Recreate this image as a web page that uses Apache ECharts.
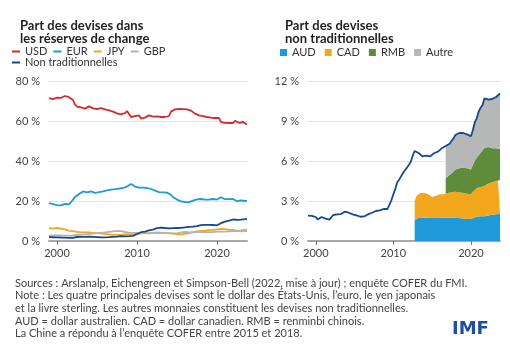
<!DOCTYPE html>
<html lang="fr">
<head>
    <meta charset="UTF-8">
    <title>Devises de réserve</title>
    <script src="https://cdn.jsdelivr.net/npm/echarts@6/dist/echarts.min.js"></script>
    <style>
        body { margin: 0; background: #fff; }
    </style>
</head>
<body>
<div id="main" style="width: 510px;height:351px;"></div>
<script>
    // trimestres 1999T1 .. 2023T4
    var quarters = [];
    for (var y = 1999; y < 2024; y++) {
        for (var q = 0; q < 4; q++) quarters.push(y + q / 4);
    }
    var yearTicks = [2000, 2010, 2020];

    // part des devises dans les réserves (%)
    var usd = [71.4,72.0,70.9,71.3, 71.7,72.0,71.6,72.3, 72.5,71.7,71.9,71.4, 70.5,68.3,67.2,66.7,
        66.8,66.5,66.2,65.9, 67.3,66.6,66.3,66.0, 66.0,66.2,66.4,66.0, 65.8,65.6,65.3,64.9,
        64.7,64.3,63.8,63.3, 63.3,63.8,63.9,65.0, 63.5,62.0,62.2,62.4, 62.4,62.8,61.2,61.5,
        61.7,62.0,62.8,62.5, 62.2,62.0,62.3,62.3, 62.0,62.1,62.0,61.7, 62.5,64.7,65.0,65.8,
        66.2,66.0,66.0,65.9, 65.8,65.8,65.5,65.2, 64.7,63.7,63.2,62.8, 62.7,62.4,62.0,62.0,
        61.8,61.7,61.6,61.5, 61.4,61.6,59.4,59.3, 59.1,59.3,59.0,59.2, 59.0,60.1,59.6,59.1,
        59.4,59.5,58.8,58.3];
    var eur = [19.0,18.5,18.4,18.2, 17.9,17.6,17.8,18.0, 18.6,18.5,18.3,19.5, 20.7,22.0,22.7,23.5,
        24.1,24.8,24.6,24.3, 23.6,24.8,24.5,24.1, 24.1,24.4,24.6,24.8, 25.0,25.3,25.6,25.7,
        25.8,25.9,26.0,26.2, 26.2,26.5,26.7,27.2, 28.2,28.5,27.8,27.2, 26.5,26.7,27.0,26.7,
        26.7,26.5,26.3,26.0, 25.8,25.2,24.5,24.4, 24.0,24.3,24.5,24.2, 23.6,23.1,22.0,21.0,
        20.7,20.2,19.8,19.6, 19.5,19.3,19.4,19.9, 20.2,20.5,20.8,21.0, 21.0,20.9,20.7,20.8,
        20.7,20.8,21.0,21.0, 20.7,21.0,21.9,21.3, 20.9,20.7,20.9,21.0, 21.0,20.5,19.9,20.2,
        20.3,20.1,20.0,20.2];
    var jpy = [6.5,6.3,6.2,6.4, 6.5,6.3,6.2,6.0, 5.8,5.3,5.1,5.0, 4.9,4.8,4.6,4.5,
        4.3,4.4,4.3,4.3, 4.3,4.1,4.0,3.9, 3.9,3.9,3.8,3.6, 3.5,3.4,3.3,3.2,
        3.1,3.1,3.1,3.1, 3.1,3.2,3.3,3.4, 3.4,3.4,3.3,3.4, 3.5,3.7,3.8,3.9,
        3.9,3.8,3.9,4.0, 4.1,4.2,4.3,4.2, 4.1,4.0,3.9,3.9, 3.9,3.8,3.7,3.6,
        3.4,3.4,3.3,3.4, 3.6,3.8,3.9,4.0, 4.4,4.6,4.8,4.9, 5.0,5.1,5.2,5.3,
        5.4,5.5,5.6,5.7, 5.8,5.9,6.0,6.0, 5.9,5.7,5.6,5.6, 5.5,5.3,5.1,5.2,
        5.3,5.5,5.6,5.6];
    var gbp = [2.7,2.7,2.8,2.8, 2.8,2.8,2.8,2.8, 2.7,2.7,2.7,2.8, 2.8,2.9,3.0,3.0,
        3.1,3.2,3.3,3.4, 3.5,3.6,3.7,3.8, 3.9,4.0,4.1,4.2, 4.3,4.5,4.6,4.7,
        4.8,4.9,5.0,5.0, 4.9,4.7,4.5,4.3, 4.2,4.2,4.1,4.1, 4.0,3.9,3.9,3.9,
        3.8,3.8,3.8,3.8, 3.9,4.0,4.0,4.0, 4.0,3.9,3.9,3.9, 3.8,3.8,3.8,3.7,
        3.8,4.0,4.3,4.7, 4.6,4.5,4.4,4.3, 4.3,4.4,4.5,4.5, 4.5,4.5,4.5,4.4,
        4.4,4.5,4.5,4.6, 4.7,4.7,4.7,4.7, 4.7,4.8,4.8,4.8, 4.9,4.9,4.9,4.9,
        4.8,4.8,4.9,4.9];
    var nonTrad = [1.91,1.90,1.88,1.85, 1.80,1.62,1.75,1.80, 1.72,1.68,1.56,1.60, 1.62,1.95,2.00,2.00,
        2.05,2.02,2.10,2.20, 2.18,2.12,2.08,2.00, 1.98,1.92,1.86,1.82, 1.78,1.84,1.90,2.00,
        2.05,2.12,2.20,2.25, 2.40,2.30,2.36,2.40, 2.45,2.40,2.55,3.05, 3.50,3.90,4.40,4.60,
        4.74,5.10,5.30,5.50, 5.70,5.95,6.40,6.75, 6.72,6.60,6.50,6.35, 6.30,6.40,6.40,6.35,
        6.50,6.58,6.60,6.70, 6.80,6.95,7.10,7.12, 7.15,7.30,7.40,7.70, 7.95,8.10,8.10,8.10,
        8.10,8.10,8.00,8.00, 7.86,8.30,8.90,9.20, 9.70,10.00,10.20,10.70, 10.75,10.60,10.60,10.65,
        10.70,10.80,10.90,11.06];

    // devises non traditionnelles : AUD et CAD depuis 2012T4, RMB et Autre depuis 2016T4
    var aud = [1.55, 1.65,1.72,1.74,1.74, 1.72,1.74,1.73,1.72, 1.70,1.72,1.74,1.73, 1.74,1.75,1.74,1.76,
        1.75,1.76,1.74,1.75, 1.74,1.72,1.72,1.70, 1.68,1.67,1.66,1.65, 1.60,1.70,1.78,1.82,
        1.84,1.86,1.88,1.86, 1.88,1.92,1.95,1.96, 1.98,2.00,2.02,2.04];
    var cad = [1.45, 1.75,1.82,1.86,1.86, 1.88,1.84,1.77,1.73, 1.60,1.63,1.66,1.72, 1.76,1.80,1.76,1.79,
        1.85,1.86,1.91,1.93, 1.96,1.96,1.93,1.92, 1.92,1.93,1.89,1.89, 1.90,2.00,2.08,2.13,
        2.16,2.19,2.22,2.29, 2.32,2.38,2.40,2.44, 2.47,2.50,2.50,2.51];
    var rmb = [1.15, 1.20,1.33,1.40,1.52, 1.66,1.72,1.80,1.83, 1.90,1.90,1.90,1.86, 1.86,2.00,2.14,2.35,
        2.40,2.55,2.70,2.85, 2.90,2.75,2.65,2.55, 2.50,2.45,2.38,2.35];
    var autre = [2.42, 2.35,2.35,2.35,2.50, 2.59,2.70,2.65,2.65, 2.60,2.60,2.55,2.60, 2.50,2.60,2.90,2.90,
        3.30,3.40,3.40,3.70, 3.65,3.55,3.60,3.70, 3.75,3.85,4.00,4.16];

    var leftTicks = [0, 20, 40, 60, 80];
    var rightTicks = [0, 3, 6, 9, 12];

    var colors = {
        usd: '#d52a2e', eur: '#1f9ad6', jpy: '#f2a81e', gbp: '#b4b4b4',
        nonTrad: '#15498f', aud: '#1d9ad7', cad: '#f2a71c', rmb: '#5e8c3a', autre: '#b6b7b7'
    };

    // paires [valeur, date] : la valeur en premier pour que l'empilement se fasse sur y
    function toPairs(vals) {
        var out = [];
        var offset = quarters.length - vals.length;
        for (var i = 0; i < quarters.length; i++) {
            out.push([i < offset ? '-' : vals[i - offset], quarters[i]]);
        }
        return out;
    }

    var font = 'Lato';
    var myChart = echarts.init(document.getElementById('main'));

    function xAxisFor(gridIndex) {
        return {
            type: 'value',
            gridIndex: gridIndex,
            min: quarters[0],
            max: quarters[quarters.length - 1],
            splitLine: { show: false },
            axisLine: { show: true, lineStyle: { color: '#a9a9a9', width: 2 } },
            axisTick: { show: true, customValues: yearTicks, length: 4, lineStyle: { color: '#777' } },
            axisLabel: {
                customValues: yearTicks, color: '#444', fontSize: 11, fontFamily: font, margin: 7,
                formatter: function (v) { return String(v); }
            }
        };
    }
    function yAxisFor(gridIndex, max, interval) {
        return {
            type: 'value',
            gridIndex: gridIndex,
            min: 0,
            max: max,
            interval: interval,
            axisLine: { show: false },
            axisTick: { show: false },
            splitLine: { lineStyle: { color: '#e4e4e4', width: 1 } },
            axisLabel: { formatter: '{value} %', color: '#444', fontSize: 11, fontFamily: font, margin: 9 }
        };
    }
    function lineSeries(name, vals, color, xi) {
        return {
            name: name, type: 'line', xAxisIndex: xi, yAxisIndex: xi,
            data: toPairs(vals), encode: { x: 1, y: 0 },
            showSymbol: false, symbol: 'none',
            lineStyle: { color: color, width: 1.8 }, itemStyle: { color: color }
        };
    }
    function areaSeries(name, vals, color) {
        return {
            name: name, type: 'line', xAxisIndex: 1, yAxisIndex: 1, stack: 'nt',
            data: toPairs(vals), encode: { x: 1, y: 0 },
            showSymbol: false, symbol: 'none',
            lineStyle: { width: 0 }, areaStyle: { color: color, opacity: 1 },
            itemStyle: { color: color }
        };
    }

    var option = {
        animation: false,
        textStyle: { fontFamily: font },
        title: [
            {
                text: 'Part des devises dans\nles réserves de change',
                left: 15, top: 15,
                textStyle: { fontSize: 13, fontWeight: 'bold', color: '#231f20', lineHeight: 12.5, fontFamily: font }
            },
            {
                text: 'Part des devises\nnon traditionnelles',
                left: 280, top: 15,
                textStyle: { fontSize: 13, fontWeight: 'bold', color: '#231f20', lineHeight: 12.5, fontFamily: font }
            }
        ],
        legend: [
            {
                data: ['USD', 'EUR', 'JPY', 'GBP'],
                left: 12, top: 46, itemWidth: 8, itemHeight: 2, itemGap: 6, icon: 'rect',
                padding: 0,
                textStyle: { fontSize: 11, color: '#333', fontFamily: font }
            },
            {
                data: ['Non traditionnelles'],
                left: 12, top: 57, itemWidth: 8, itemHeight: 2, icon: 'rect',
                padding: 0,
                textStyle: { fontSize: 11, color: '#333', fontFamily: font }
            },
            {
                data: ['AUD', 'CAD', 'RMB', 'Autre'],
                left: 280, top: 47, itemWidth: 7, itemHeight: 7, itemGap: 9, icon: 'rect',
                padding: 0,
                textStyle: { fontSize: 11, color: '#333', fontFamily: font }
            }
        ],
        grid: [
            { left: 49, right: 263, top: 81, bottom: 110 },
            { left: 308, right: 10, top: 81, bottom: 110 }
        ],
        xAxis: [xAxisFor(0), xAxisFor(1)],
        yAxis: [yAxisFor(0, leftTicks[leftTicks.length - 1], 20), yAxisFor(1, rightTicks[rightTicks.length - 1], 3)],
        series: [
            lineSeries('USD', usd, colors.usd, 0),
            lineSeries('EUR', eur, colors.eur, 0),
            lineSeries('JPY', jpy, colors.jpy, 0),
            lineSeries('GBP', gbp, colors.gbp, 0),
            lineSeries('Non traditionnelles', nonTrad, colors.nonTrad, 0),
            areaSeries('AUD', aud, colors.aud),
            areaSeries('CAD', cad, colors.cad),
            areaSeries('RMB', rmb, colors.rmb),
            areaSeries('Autre', autre, colors.autre),
            lineSeries('Total non traditionnelles', nonTrad, colors.nonTrad, 1)
        ],
        graphic: [
            {
                type: 'text', left: 15, top: 277,
                style: {
                    text: 'Sources : Arslanalp, Eichengreen et Simpson-Bell (2022, mise à jour) ; enquête COFER du FMI.\n' +
                        'Note : Les quatre principales devises sont le dollar des États-Unis, l’euro, le yen japonais\n' +
                        'et la livre sterling. Les autres monnaies constituent les devises non traditionnelles.\n' +
                        'AUD = dollar australien. CAD = dollar canadien. RMB = renminbi chinois.\n' +
                        'La Chine a répondu à l’enquête COFER entre 2015 et 2018.',
                    font: '11px ' + font, fill: '#444', lineHeight: 12.6
                }
            },
            {
                type: 'text', left: 452, top: 320,
                style: { text: 'IMF', font: 'bold 18px "DejaVu Sans"', fill: '#1d4f9e' }
            }
        ]
    };

    myChart.setOption(option);
</script>
</body>
</html>
